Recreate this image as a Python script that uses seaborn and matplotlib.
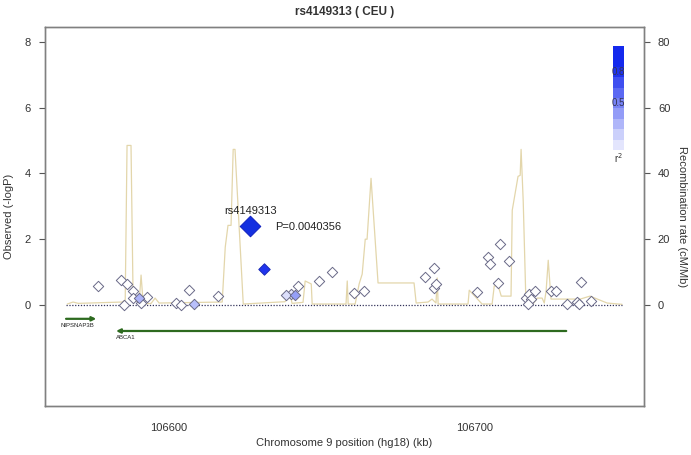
import numpy as np
import pandas as pd
import matplotlib
matplotlib.use("Agg")
import matplotlib.pyplot as plt
from matplotlib.patches import Rectangle
import seaborn as sns

# ---- data ----
snp_pos = [106576.7, 106584.3, 106586.2, 106588.2, 106585.2, 106588.2, 106590.2, 106590.8,
           106592.8, 106602.3, 106603.9, 106606.6, 106608.2, 106616.0, 106626.6, 106631.1,
           106638.4, 106640.0, 106641.3, 106642.3, 106649.2, 106653.4, 106660.7, 106663.9,
           106683.9, 106686.9, 106686.9, 106687.5, 106701.0, 106704.6, 106705.2, 106708.5,
           106707.9, 106711.5, 106717.0, 106718.0, 106718.7, 106717.7, 106720.0, 106725.2,
           106726.9, 106730.5, 106733.8, 106734.4, 106735.1, 106738.4]
snp_logp = [0.58, 0.76, 0.64, 0.42, 0.00, 0.21, 0.21, 0.06,
            0.24, 0.06, 0.00, 0.45, 0.03, 0.27, 2.394, 1.09,
            0.30, 0.33, 0.30, 0.58, 0.73, 1.00, 0.36, 0.42,
            0.85, 1.12, 0.52, 0.64, 0.39, 1.45, 1.24, 1.85,
            0.67, 1.33, 0.21, 0.33, 0.18, 0.03, 0.42, 0.42,
            0.42, 0.03, 0.09, 0.03, 0.70, 0.12]
snp_r2 = [0.0, 0.0, 0.0, 0.0, 0.0, 0.0, 0.35, 0.0,
          0.0, 0.0, 0.0, 0.0, 0.3, 0.0, 1.0, 0.95,
          0.15, 0.1, 0.45, 0.0, 0.0, 0.0, 0.0, 0.0,
          0.0, 0.0, 0.0, 0.0, 0.0, 0.0, 0.0, 0.0,
          0.0, 0.0, 0.0, 0.0, 0.0, 0.0, 0.0, 0.0,
          0.0, 0.0, 0.0, 0.0, 0.0, 0.0]

rec_pos = [106566.6, 106568.5, 106570.2, 106584.6, 106585.6, 106586.2, 106587.5, 106588.2,
           106590.2, 106590.8, 106591.5, 106594.1, 106595.4, 106596.7, 106617.4, 106618.4,
           106619.3, 106620.3, 106621.0, 106621.6, 106624.3, 106638.0, 106639.0, 106639.7,
           106640.3, 106643.9, 106644.6, 106646.6, 106646.9, 106658.0, 106658.4, 106658.7,
           106661.0, 106662.3, 106663.3, 106664.3, 106664.9, 106666.2, 106668.5, 106680.3,
           106681.0, 106684.9, 106686.2, 106687.5, 106687.9, 106688.2, 106698.0, 106698.4,
           106702.6, 106705.9, 106706.6, 106707.9, 106708.9, 106712.1, 106712.5, 106714.4,
           106715.1, 106715.4, 106716.1, 106717.0, 106719.3, 106720.7, 106722.3, 106723.0,
           106723.6, 106724.3, 106725.2, 106734.8, 106738.0, 106743.6, 106748.5]
rec_rate = [0.3, 0.9, 0.5, 0.9, 1.5, 48.5, 48.5, 1.2,
            1.2, 9.1, 0.3, 0.5, 2.1, 0.6, 0.9, 17.6,
            24.2, 24.2, 47.3, 47.3, 0.3, 1.0, 2.4, 3.3,
            0.5, 0.8, 7.3, 6.4, 0.3, 0.3, 7.3, 0.3,
            0.3, 6.4, 9.4, 20.0, 20.0, 38.5, 6.7, 6.7,
            0.6, 0.9, 1.8, 0.6, 8.2, 0.3, 0.3, 4.5,
            0.3, 0.3, 5.8, 5.8, 2.7, 2.7, 28.8, 39.1,
            39.4, 47.3, 31.5, 0.3, 0.3, 2.1, 2.1, 0.6,
            4.2, 13.6, 1.8, 1.8, 2.7, 0.6, 0.2]

gene_names = ["NIPSNAP3B", "ABCA1"]
gene_start = [106566.2, 106582.6]
gene_end = [106576.1, 106730.2]
gene_strand = [1, -1]

lead_snp = "rs4149313"
lead_p = "P=0.0040356"
legend_levels = [1.0, 0.9, 0.8, 0.7, 0.6, 0.5, 0.4, 0.3, 0.2, 0.1]

# ---- style ----
sns.set_style("white")
plt.rcParams['font.family'] = ['Liberation Sans', 'DejaVu Sans']

fig = plt.figure(figsize=(6.91, 4.55), dpi=100)
ax = fig.add_axes([45/691, 1-406/455, 599/691, 379/455])
ax2 = ax.twinx()

xlim = (106559.3, 106755.7)
ylim = (-3.07, 8.45)
ax.set_xlim(*xlim)
ax.set_ylim(*ylim)
ax2.set_ylim(ylim[0]*10, ylim[1]*10)

# recombination line on right axis, drawn beneath points
rec_df = pd.DataFrame({"pos": rec_pos, "rate": rec_rate})
sns.lineplot(data=rec_df, x="pos", y="rate", ax=ax2, color="#e3d6ab", linewidth=0.9,
             estimator=None, sort=False)
ax.set_zorder(ax2.get_zorder() + 1)
ax.patch.set_visible(False)

# baseline dotted
ax.plot([106566.2, 106748.5], [0, 0], linestyle=(0, (1, 1.3)), color="#33335a", linewidth=0.9, zorder=1)

# SNP points
def r2_color(r):
    base = np.array([1.0, 1.0, 1.0])
    blue = np.array([0.08, 0.16, 0.93])
    return tuple(base * (1 - r) + blue * r)

snp_df = pd.DataFrame({"pos": snp_pos, "logp": snp_logp, "r2": snp_r2})
small = snp_df.iloc[[i for i in range(len(snp_df)) if i != 14]]
for r2v, sub in small.groupby("r2", sort=True):
    sz = 28 if r2v < 0.9 else 34
    ec = "#6a6a88" if r2v < 0.9 else "#1a2bb8"
    sns.scatterplot(data=sub, x="pos", y="logp", ax=ax, marker="D", s=sz,
                    color=r2_color(r2v), edgecolor=ec, linewidth=0.7, zorder=3, legend=False)
lead = snp_df.iloc[[14]]
sns.scatterplot(data=lead, x="pos", y="logp", ax=ax, marker="D", s=110,
                color="#1430e0", edgecolor="#1020c0", linewidth=0.7, zorder=4, legend=False)

ax.text(snp_pos[14], 2.85, lead_snp, ha="center", va="center", fontsize=8, color="#222222")
ax.text(106634.6, 2.38, lead_p, ha="left", va="center", fontsize=8, color="#222222")

# genes
gene_y = [-0.42, -0.79]
for name, s, e, strand, gy in zip(gene_names, gene_start, gene_end, gene_strand, gene_y):
    tail, head = (s, e) if strand > 0 else (e, s)
    ax.annotate("", xy=(head, gy), xytext=(tail, gy),
                arrowprops=dict(arrowstyle="-|>", color="#2d6a1f", lw=1.6,
                                mutation_scale=6, shrinkA=0, shrinkB=0))
    lx = s - 1.8 if strand > 0 else s
    ax.text(lx, gy - 0.2, name, ha="left", va="center", fontsize=4.3, color="#222222")

# r2 legend
legend_intensity = [1.0, 1.0, 0.95, 0.82, 0.7, 0.58, 0.46, 0.34, 0.22, 0.12]
cb_x0, cb_w = 0.948, 0.019
cb_top = 1 - (46 - 27) / 379
cb_h = 10.4 / 379
for i, lv in enumerate(legend_levels):
    ax.add_patch(Rectangle((cb_x0, cb_top - (i + 1) * cb_h), cb_w, cb_h,
                           transform=ax.transAxes, facecolor=r2_color(legend_intensity[i]),
                           edgecolor="none", zorder=5))
ax.text(cb_x0 + cb_w/2, cb_top - 2.5 * cb_h, "0.8", transform=ax.transAxes,
        ha="center", va="center", fontsize=7, color="#333355", zorder=6)
ax.text(cb_x0 + cb_w/2, cb_top - 5.5 * cb_h, "0.5", transform=ax.transAxes,
        ha="center", va="center", fontsize=7, color="#333355", zorder=6)
ax.text(cb_x0 + cb_w/2, cb_top - 10.8 * cb_h, "r$^2$", transform=ax.transAxes,
        ha="center", va="center", fontsize=7, color="#333333", zorder=6)

# axes styling
spine_c = "#808080"
for a in (ax, ax2):
    for sp in a.spines.values():
        sp.set_color(spine_c)
        sp.set_linewidth(1.0)
ax.set_yticks([0, 2, 4, 6, 8])
ax2.set_yticks([0, 20, 40, 60, 80])
ax.set_xticks([106600, 106700])
ax.set_xticklabels(["106600", "106700"])
for a in (ax, ax2):
    a.tick_params(axis="both", direction="out", length=4, width=0.8, color="#555555",
                  labelsize=8, labelcolor="#333333", pad=6)
ax.tick_params(axis="x", pad=8)
ax.set_xlabel("Chromosome 9 position (hg18) (kb)", fontsize=8, color="#333333", labelpad=4)
ax.set_ylabel("Observed (-logP)", fontsize=8, color="#333333", labelpad=8)
ax2.set_ylabel("Recombination rate (cM/Mb)", fontsize=8, color="#333333", rotation=270, labelpad=12)
ax2.set_xlabel("")
ax.set_title("rs4149313 ( CEU )", fontsize=8.5, fontweight="bold", color="#333333", pad=9)

fig.savefig("out.png", dpi=100)
